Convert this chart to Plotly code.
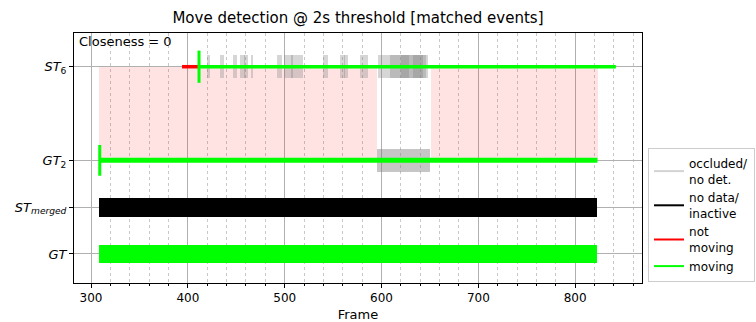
import plotly.graph_objects as go

# Row positions on the y axis and their labels
row_pos = [0, 1, 2, 4]
row_labels = ["<i>GT</i>", "<i>ST</i><sub><i>merged</i></sub>", "<i>GT</i><sub>2</sub>", "<i>ST</i><sub>6</sub>"]

# Ground-truth movement span (frames)
gt_span = [308, 823]
# Merged system track: no data / inactive
st_merged_span = [308, 823]
# GT_2 track: moving, plus an occluded stretch
gt2_moving = [309, 823]
gt2_occluded = [595, 650]
# ST_6 track: not moving, then moving
st6_not_moving = [394, 411.5]
st6_moving = [411.5, 842]
# ST_6 occluded / no detection intervals
st6_occluded_start = [419.8, 433.3, 446.7, 454, 458, 465.3, 492, 499, 506, 540, 557, 561, 578, 596.5, 609, 620, 632]
st6_occluded_end = [422.9, 437.4, 450.8, 458.5, 462.2, 467.4, 497, 508.7, 519, 545, 562, 565.5, 586, 648, 628, 643, 646]
# Matched-event shading between GT_2 and ST_6
match_start = [308.6, 650.6]
match_end = [595.4, 824]

GREEN = "#00ff00"
RED = "#ff0000"
GRAY = "rgba(128,128,128,0.32)"
PINK = "rgba(255,0,0,0.11)"

fig = go.Figure()

# matched-event shading
fig.add_trace(go.Bar(
    y=[3] * len(match_start), base=match_start,
    x=[e - s for s, e in zip(match_start, match_end)],
    orientation="h", width=2, marker=dict(color=PINK, line=dict(width=0)),
    showlegend=False, hoverinfo="skip"))

# occluded intervals on ST_6
fig.add_trace(go.Bar(
    y=[4] * len(st6_occluded_start), base=st6_occluded_start,
    x=[e - s for s, e in zip(st6_occluded_start, st6_occluded_end)],
    orientation="h", width=0.49, marker=dict(color=GRAY, line=dict(width=0)),
    showlegend=False, hoverinfo="skip"))

# occluded interval on GT_2
fig.add_trace(go.Bar(
    y=[2], base=[gt2_occluded[0]], x=[gt2_occluded[1] - gt2_occluded[0]],
    orientation="h", width=0.5, marker=dict(color="rgba(128,128,128,0.45)", line=dict(width=0)),
    showlegend=False, hoverinfo="skip"))

# ST_merged: inactive
fig.add_trace(go.Bar(
    y=[1], base=[st_merged_span[0]], x=[st_merged_span[1] - st_merged_span[0]],
    orientation="h", width=0.4, marker=dict(color="black", line=dict(width=0)),
    showlegend=False, hoverinfo="skip"))

# GT: moving
fig.add_trace(go.Bar(
    y=[0], base=[gt_span[0]], x=[gt_span[1] - gt_span[0]],
    orientation="h", width=0.4, marker=dict(color=GREEN, line=dict(width=0)),
    showlegend=False, hoverinfo="skip"))

# GT_2 moving line and start marker
fig.add_trace(go.Scatter(
    x=gt2_moving, y=[2, 2], mode="lines", line=dict(color=GREEN, width=5),
    showlegend=False, hoverinfo="skip"))
fig.add_trace(go.Scatter(
    x=[gt2_moving[0]], y=[2], mode="markers",
    marker=dict(symbol="line-ns", size=22, line=dict(color=GREEN, width=3)),
    showlegend=False, hoverinfo="skip"))

# ST_6 not-moving and moving lines, with event marker
fig.add_trace(go.Scatter(
    x=st6_not_moving, y=[4, 4], mode="lines", line=dict(color=RED, width=3.5),
    showlegend=False, hoverinfo="skip"))
fig.add_trace(go.Scatter(
    x=st6_moving, y=[4, 4], mode="lines", line=dict(color=GREEN, width=3.5),
    showlegend=False, hoverinfo="skip"))
fig.add_trace(go.Scatter(
    x=[st6_moving[0]], y=[4], mode="markers",
    marker=dict(symbol="line-ns", size=23, line=dict(color=GREEN, width=3)),
    showlegend=False, hoverinfo="skip"))

# legend entries
legend_items = [("occluded/<br>no det.", "#d3d3d3"), ("no data/<br>inactive", "black"),
                ("not<br>moving", RED), ("moving", GREEN)]
for name, col in legend_items:
    fig.add_trace(go.Scatter(x=[None], y=[None], mode="lines", name=name,
                             line=dict(color=col, width=2)))

fig.add_annotation(text="Closeness = 0", xref="paper", yref="paper",
                   x=0.006, y=0.968, xanchor="left", yanchor="middle",
                   showarrow=False, font=dict(size=13, color="black"))

fig.update_layout(
    width=756, height=322,
    margin=dict(l=74, r=114, t=33, b=39, autoexpand=False),
    paper_bgcolor="white", plot_bgcolor="white",
    font=dict(family="DejaVu Sans", size=12, color="black"),
    barmode="overlay", bargap=0,
    title=dict(text="Move detection @ 2s threshold [matched events]",
               x=0.4735, xanchor="center", y=1 - 18 / 322, yanchor="middle",
               yref="container", font=dict(size=15, color="black")),
    legend=dict(x=1.0106, xanchor="left", y=0.54, yanchor="top",
                bgcolor="white", bordercolor="#cccccc", borderwidth=1,
                font=dict(size=12), tracegroupgap=0, itemwidth=30),
    showlegend=True,
)

fig.update_xaxes(
    range=[282.4, 869], tickvals=[300, 400, 500, 600, 700, 800],
    ticks="outside", ticklen=4, tickcolor="black", tickfont=dict(size=12),
    showgrid=True, gridcolor="#b0b0b0", gridwidth=1,
    showline=True, linecolor="black", linewidth=1, mirror=True,
    zeroline=False,
    title=dict(text="Frame", font=dict(size=13), standoff=8),
    minor=dict(dtick=20, tick0=300, ticks="outside", ticklen=2, tickcolor="black",
               showgrid=True, gridcolor="#c8c8c8", griddash="dot", gridwidth=1),
)
fig.update_yaxes(
    range=[-0.62, 4.72], tickvals=row_pos, ticktext=row_labels,
    ticks="outside", ticklen=4, tickcolor="black", tickfont=dict(size=13),
    showgrid=True, gridcolor="#b0b0b0", gridwidth=1,
    showline=True, linecolor="black", linewidth=1, mirror=True,
    zeroline=False,
)

fig.write_html("out.html")
